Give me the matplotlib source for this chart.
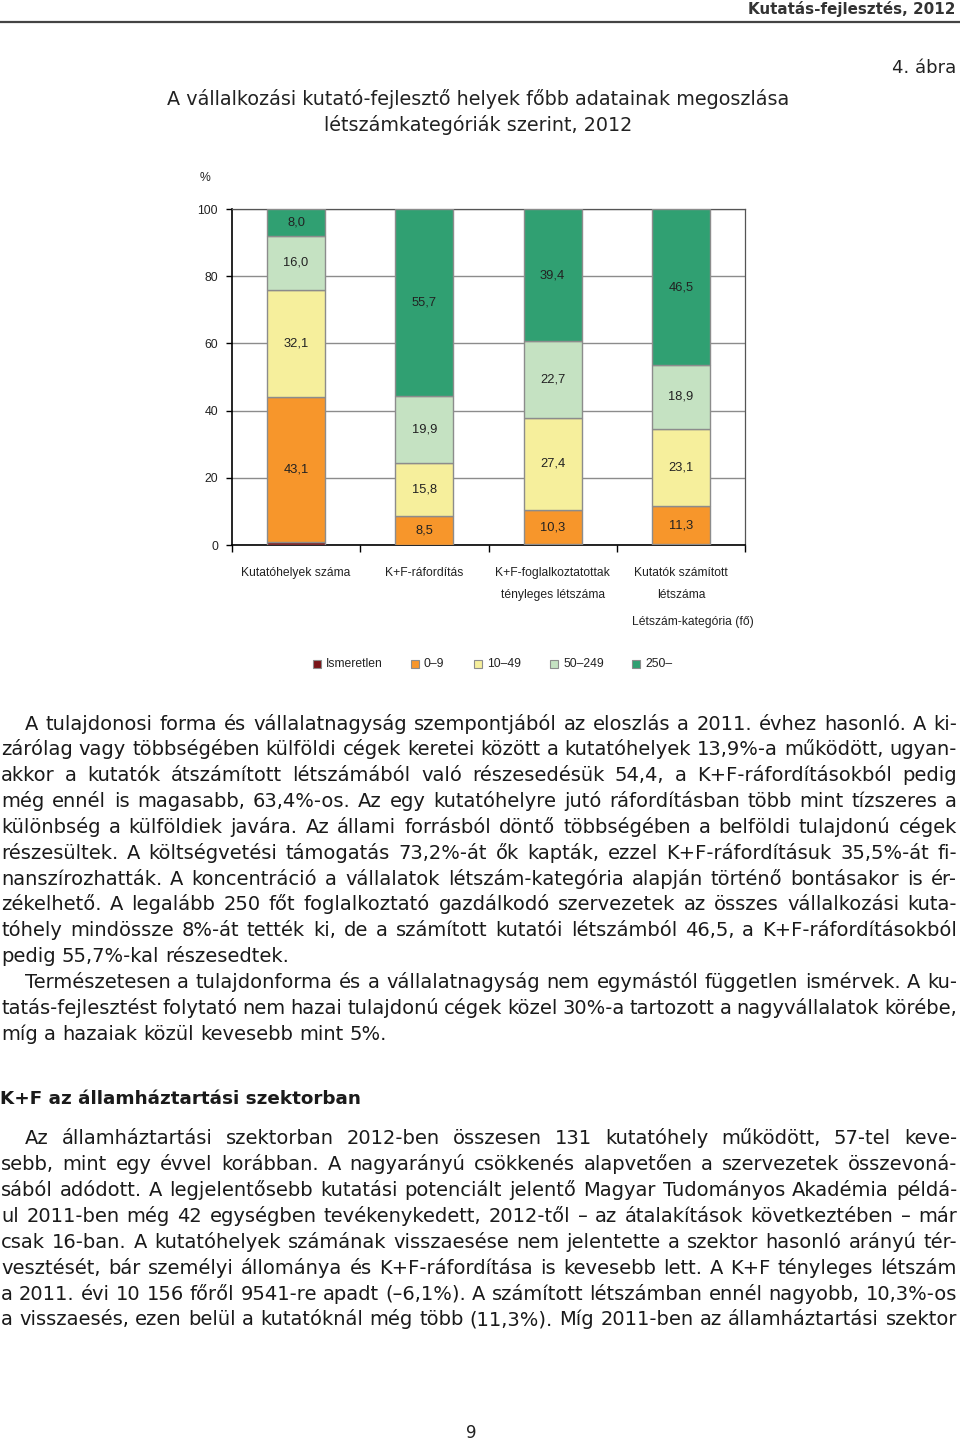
import matplotlib
matplotlib.use('Agg')
import matplotlib.pyplot as plt
from matplotlib.patches import Rectangle

W, H = 960, 1442

categories = ['Kutatóhelyek száma', 'K+F-ráfordítás',
              'K+F-foglalkoztatottak\ntényleges létszáma', 'Kutatók számított\nlétszáma']
series_names = ['Ismeretlen', '0–9', '10–49', '50–249', '250–']
ismeretlen = [0.8, 0.1, 0.2, 0.2]
kat_0_9 = [43.1, 8.5, 10.3, 11.3]
kat_10_49 = [32.1, 15.8, 27.4, 23.1]
kat_50_249 = [16.0, 19.9, 22.7, 18.9]
kat_250 = [8.0, 55.7, 39.4, 46.5]
colors = ['#7a1418', '#f7962b', '#f6ef9c', '#c5e2c2', '#30a072']

par1 = [
    "A tulajdonosi forma és vállalatnagyság szempontjából az eloszlás a 2011. évhez hasonló. A ki-",
    "zárólag vagy többségében külföldi cégek keretei között a kutatóhelyek 13,9%-a működött, ugyan-",
    "akkor a kutatók átszámított létszámából való részesedésük 54,4, a K+F-ráfordításokból pedig",
    "még ennél is magasabb, 63,4%-os. Az egy kutatóhelyre jutó ráfordításban több mint tízszeres a",
    "különbség a külföldiek javára. Az állami forrásból döntő többségében a belföldi tulajdonú cégek",
    "részesültek. A költségvetési támogatás 73,2%-át ők kapták, ezzel K+F-ráfordításuk 35,5%-át fi-",
    "nanszírozhatták. A koncentráció a vállalatok létszám-kategória alapján történő bontásakor is ér-",
    "zékelhető. A legalább 250 főt foglalkoztató gazdálkodó szervezetek az összes vállalkozási kuta-",
    "tóhely mindössze 8%-át tették ki, de a számított kutatói létszámból 46,5, a K+F-ráfordításokból",
    "pedig 55,7%-kal részesedtek.",
]
par2 = [
    "Természetesen a tulajdonforma és a vállalatnagyság nem egymástól független ismérvek. A ku-",
    "tatás-fejlesztést folytató nem hazai tulajdonú cégek közel 30%-a tartozott a nagyvállalatok körébe,",
    "míg a hazaiak közül kevesebb mint 5%.",
]
heading = "K+F az államháztartási szektorban"
par3 = [
    "Az államháztartási szektorban 2012-ben összesen 131 kutatóhely működött, 57-tel keve-",
    "sebb, mint egy évvel korábban. A nagyarányú csökkenés alapvetően a szervezetek összevoná-",
    "sából adódott. A legjelentősebb kutatási potenciált jelentő Magyar Tudományos Akadémia példá-",
    "ul 2011-ben még 42 egységben tevékenykedett, 2012-től – az átalakítások következtében – már",
    "csak 16-ban. A kutatóhelyek számának visszaesése nem jelentette a szektor hasonló arányú tér-",
    "vesztését, bár személyi állománya és K+F-ráfordítása is kevesebb lett. A K+F tényleges létszám",
    "a 2011. évi 10 156 főről 9541-re apadt (–6,1%). A számított létszámban ennél nagyobb, 10,3%-os",
    "a visszaesés, ezen belül a kutatóknál még több (11,3%). Míg 2011-ben az államháztartási szektor",
]

plt.rcParams['font.family'] = ['Liberation Sans', 'DejaVu Sans']
WIDE = ['DejaVu Sans']
INK = '#1a1a1a'

fig = plt.figure(figsize=(W / 100, H / 100), dpi=100)
renderer = fig.canvas.get_renderer()


def px(x, y):
    return x / W, 1 - y / H


def txt(x, y, s, **kw):
    return fig.text(*px(x, y), s, **kw)


def width_of(s, **kw):
    t = fig.text(0, 0, s, **kw)
    w = t.get_window_extent(renderer).width
    t.remove()
    return w


# header
txt(955, 9, 'Kutatás-fejlesztés, 2012', fontsize=10.9, fontweight='bold', family=WIDE,
    ha='right', va='center', color='#333333')
fig.add_artist(plt.Line2D([0, 1], [1 - 22 / H] * 2, color='#444444', lw=1.6))
txt(956, 68, '4. ábra', fontsize=13, family=WIDE, ha='right', va='center', color='#222222')
txt(478, 99, 'A vállalkozási kutató-fejlesztő helyek főbb adatainak megoszlása', fontsize=13.8,
    family=WIDE, ha='center', va='center', color='#222222')
txt(478, 125, 'létszámkategóriák szerint, 2012', fontsize=13.8, family=WIDE,
    ha='center', va='center', color='#222222')

# chart
ax = fig.add_axes([232 / W, 1 - 545 / H, (745 - 232) / W, (545 - 209) / H])
series = [ismeretlen, kat_0_9, kat_10_49, kat_50_249, kat_250]
xpos = [i + 0.5 for i in range(len(categories))]
bottom = [0.0] * len(categories)
for name, vals, c in zip(series_names, series, colors):
    ax.bar(xpos, vals, width=0.452, bottom=bottom, color=c, edgecolor='#8c8c8c', lw=1, zorder=3, label=name)
    if name != 'Ismeretlen':
        for x, b, v in zip(xpos, bottom, vals):
            ax.text(x, b + v / 2, f'{v:.1f}'.replace('.', ','), ha='center', va='center',
                    fontsize=9.3, color='#222222', zorder=4)
    bottom = [b + v for b, v in zip(bottom, vals)]

ax.set_xlim(0, 4)
ax.set_ylim(0, 100)
ax.set_yticks([0, 20, 40, 60, 80, 100])
ax.yaxis.grid(True, color='#8c8c8c', lw=1, zorder=0)
ax.set_axisbelow(True)
ax.set_xticks([0, 1, 2, 3, 4])
ax.set_xticklabels([])
ax.tick_params(axis='x', length=5, width=1, color='black')
ax.tick_params(axis='y', length=4, width=1, labelsize=8.8, labelcolor='#222222', pad=6)
for s in ['left', 'bottom']:
    ax.spines[s].set_color('black')
    ax.spines[s].set_linewidth(1.2)
for s in ['top', 'right']:
    ax.spines[s].set_color('#555555')
    ax.spines[s].set_linewidth(0.9)

txt(205, 178, '%', fontsize=8.8, ha='center', va='center', color='#222222')
for i, c in enumerate(categories):
    cx = 232 + (i + 0.5) * (745 - 232) / 4
    txt(cx, 567, c, fontsize=8.7, ha='center', va='top', linespacing=2.15, color='#222222')
txt(693, 622, 'Létszám-kategória (fő)', fontsize=8.7, ha='center', va='center', color='#222222')

# legend
leg_x = [313, 411, 474, 550, 632]
for x, name, c in zip(leg_x, series_names, colors):
    fig.add_artist(Rectangle(px(x, 668), 8 / W, 8 / H, facecolor=c, edgecolor='#8c8c8c', lw=0.8))
    txt(x + 13, 664, name, fontsize=8.7, ha='left', va='center', color='#222222')

# body text, justified word by word on a common baseline
LEFT, RIGHT = 1, 957
BODY = 10 * 288 / width_of(par1[-1], fontsize=10, family=WIDE)
space_w = width_of('n n', fontsize=BODY, family=WIDE) - width_of('nn', fontsize=BODY, family=WIDE)
BASE = 6.5


def put_line(line, y, x0, justify=True):
    words = line.split(' ')
    ts = [fig.text(0, 0, w, fontsize=BODY, family=WIDE, va='baseline', color=INK) for w in words]
    ws = [t.get_window_extent(renderer).width for t in ts]
    gap = (RIGHT - x0 - sum(ws)) / (len(words) - 1) if justify and len(words) > 1 else space_w
    x = x0
    for t, w in zip(ts, ws):
        t.set_position(px(x, y + BASE))
        x += w + gap


def paragraph(lines, y0, last_full=False, step=25.85, indent=24):
    for k, line in enumerate(lines):
        last = k == len(lines) - 1 and not last_full
        put_line(line, y0 + k * step, LEFT + (indent if k == 0 else 0), justify=not last)


paragraph(par1, 723)
paragraph(par2, 982)
hs = BODY * 360 / width_of(heading, fontsize=BODY, fontweight='bold', family=WIDE)
txt(0, 1097 + BASE, heading, fontsize=hs, fontweight='bold', family=WIDE, ha='left', va='baseline', color=INK)
paragraph(par3, 1138, last_full=True)
txt(471, 1433, '9', fontsize=12, family=WIDE, ha='center', va='center', color='#222222')

fig.savefig('out.png', dpi=100)
